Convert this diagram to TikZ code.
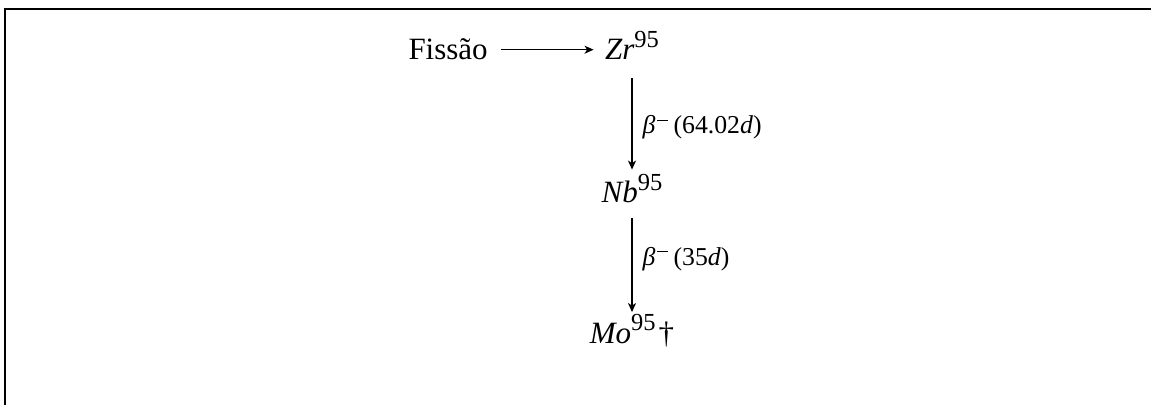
\documentclass[tikz,border=0pt]{standalone}
\usepackage{fontspec}
\setmainfont{Liberation Serif}
\usetikzlibrary{arrows.meta}
\newcommand{\supr}[1]{\raisebox{0.41em}{\fontsize{9.8pt}{10pt}\selectfont #1}}
\newcommand{\lminus}{\kern0.8pt\raisebox{0.5em}{\rule{4.3pt}{0.45pt}}\kern2.2pt}
\tikzset{
  nuc/.style={font=\fontsize{12.4pt}{14pt}\selectfont, inner sep=0pt, anchor=base},
  lbl/.style={font=\fontsize{10.3pt}{12pt}\selectfont, inner sep=0pt, anchor=base west},
  conn/.style={line width=0.45pt, -{Stealth[length=3.6pt,width=3.2pt,inset=1pt]}},
  frame/.style={line width=0.5pt}
}
\begin{document}
\begin{tikzpicture}[x=0.4pt,y=-0.4pt]
\useasboundingbox (0,0) rectangle (1151,405);
\coordinate (tl) at (5,9);
\coordinate (tr) at (1151,9);
\coordinate (bl) at (5,405);
\draw[frame] (tr) -- (tl) -- (bl);
\node[nuc, anchor=base west] (fis) at (408,60) {Fissão};
\node[nuc] (zr) at (632,60) {\textit{Zr}\supr{95}};
\node[nuc] (nb) at (632,203) {\textit{Nb}\supr{95}};
\node[nuc] (mo) at (632,343) {\textit{Mo}\supr{95}\kern1.2pt†};
\draw[conn, shorten <=5pt, shorten >=4.4pt, yshift=-0.7pt] (fis.east) -- (fis.east -| zr.west);
\draw[conn, shorten <=7.2pt, shorten >=1.6pt] (zr.south) -- (nb.north);
\draw[conn, shorten <=5.6pt, shorten >=0.6pt] (nb.south) -- (mo.north);
\node[lbl] (l1) at (642,134) {\textit{β}\lminus(64.02\textit{d})};
\node[lbl] (l2) at (642,265) {\textit{β}\lminus(35\textit{d})};
\end{tikzpicture}
\end{document}
